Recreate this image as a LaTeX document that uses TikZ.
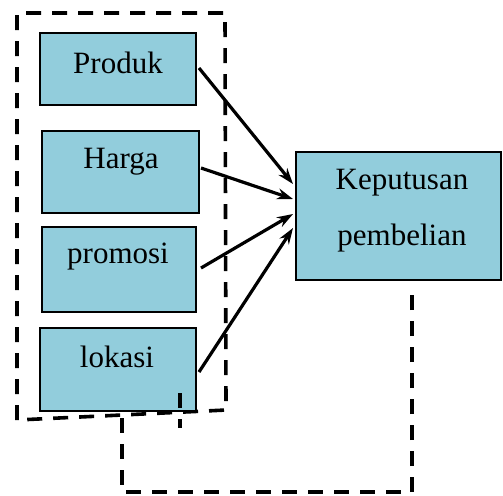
\documentclass[tikz,border=0pt]{standalone}
\usepackage{fontspec}
\setmainfont{Liberation Serif}
\usetikzlibrary{arrows.meta}
\definecolor{boxblue}{RGB}{146,205,220}
\begin{document}
\begin{tikzpicture}[x=0.5pt,y=-0.5pt,
  varbox/.style={draw=black,line width=0.6pt,fill=boxblue},
  lbl/.style={font=\fontsize{15.5}{19}\selectfont,inner sep=0pt},
  frame/.style={line width=1.8pt,dash pattern=on 7.5pt off 5.5pt},
  link/.style={line width=1.6pt,-{Stealth[length=8pt,width=5.5pt]}}]
\useasboundingbox (0,0) rectangle (503,495);
% grouping frame around the four variables
\draw[frame] (17,420) -- (17,13) -- (225,13) -- (226,410) -- cycle;
% variable boxes
\draw[varbox] (40,33) rectangle (196,105);
\node[lbl] (produk) at (118,63) {Produk};
\draw[varbox] (42,131) rectangle (199,213);
\node[lbl] (harga) at (121,162) {Harga};
\draw[varbox] (42,227) rectangle (196,312);
\node[lbl] (promosi) at (118,257) {promosi};
\draw[varbox] (40,328) rectangle (196,411);
\node[lbl] (lokasi) at (117,357) {lokasi};
% decision box
\draw[varbox] (296,152) rectangle (501,280);
\node[lbl] (kep) at (402,183) {Keputusan};
\node[lbl] (pem) at (402,238) {pembelian};
% connector ends
\coordinate (p1) at (199,68);
\coordinate (p2) at (201,168);
\coordinate (p3) at (201,268);
\coordinate (p4) at (199,372);
\coordinate (k1) at (293,184);
\coordinate (k2) at (293,199);
\coordinate (k3) at (293,214);
\coordinate (k4) at (293,228);
\draw[link] (p1) -- (k1);
\draw[link] (p2) -- (k2);
\draw[link] (p3) -- (k3);
\draw[link] (p4) -- (k4);
% feedback path below
\coordinate (f1) at (122,418);
\coordinate (f2) at (122,492);
\coordinate (f3) at (412,492);
\coordinate (f4) at (412,293);
\draw[frame] (f1) -- (f2) -- (f3) -- (f4);
\coordinate (s1) at (180,393);
\coordinate (s2) at (180,428);
\draw[frame] (s1) -- (s2);
\end{tikzpicture}
\end{document}
